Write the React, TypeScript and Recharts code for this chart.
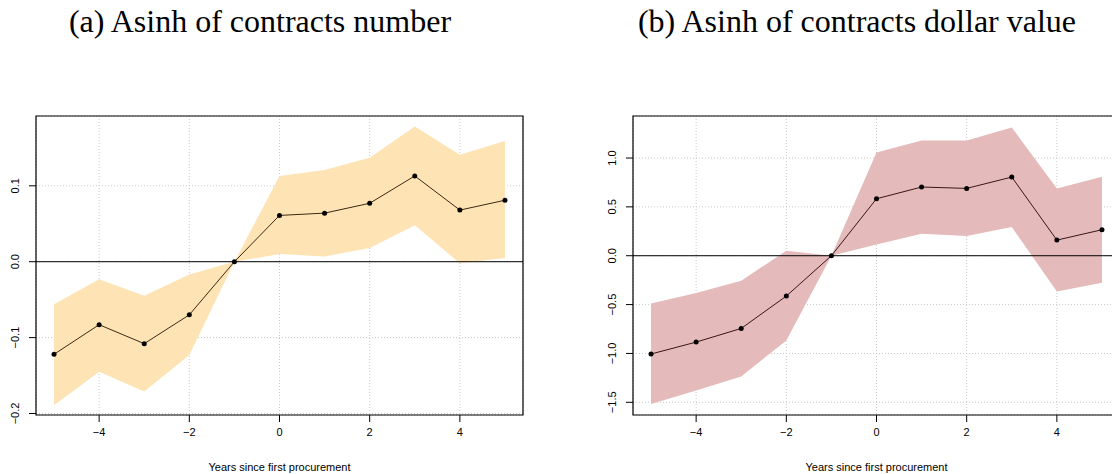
import React from "react"
import {
  Area,
  CartesianGrid,
  ComposedChart,
  Label,
  Line,
  ReferenceArea,
  ReferenceLine,
  XAxis,
  YAxis,
} from "recharts"

// event time, years relative to first procurement
const years = [-5, -4, -3, -2, -1, 0, 1, 2, 3, 4, 5]
const xTicks = [-4, -2, 0, 2, 4]

// (a) asinh of number of contracts
const countEst = [-0.122, -0.083, -0.108, -0.07, 0, 0.061, 0.064, 0.077, 0.113, 0.068, 0.081]
const countLo = [-0.189, -0.145, -0.171, -0.123, 0, 0.01, 0.007, 0.018, 0.048, -0.002, 0.005]
const countHi = [-0.056, -0.023, -0.045, -0.017, 0, 0.113, 0.121, 0.137, 0.178, 0.141, 0.159]
const countTicks = [-0.2, -0.1, 0, 0.1]

// (b) asinh of dollar value of contracts
const valueEst = [-1.006, -0.884, -0.744, -0.413, 0, 0.583, 0.703, 0.689, 0.805, 0.16, 0.266]
const valueLo = [-1.518, -1.378, -1.235, -0.867, 0, 0.116, 0.225, 0.201, 0.294, -0.365, -0.276]
const valueHi = [-0.488, -0.382, -0.256, 0.051, 0, 1.057, 1.18, 1.18, 1.313, 0.689, 0.809]
const valueTicks = [-1.5, -1, -0.5, 0, 0.5, 1]

const X_DOMAIN: [number, number] = [-5.4, 5.4]

const fmt = (v: number) => v.toFixed(1).replace("-", "\u2212")

const tickFont = { fontFamily: "'Liberation Sans', Arial, sans-serif", fontSize: 11 }

function YTick(props: any) {
  const { x, y, payload } = props
  const cx = x - 12
  return (
    <text
      x={cx}
      y={y}
      transform={`rotate(-90, ${cx}, ${y})`}
      textAnchor="middle"
      dominantBaseline="central"
      fill="#000"
      style={tickFont}
    >
      {fmt(payload.value)}
    </text>
  )
}

function XTick(props: any) {
  const { x, y, payload } = props
  return (
    <text x={x} y={y + 8} textAnchor="middle" dominantBaseline="central" fill="#000" style={tickFont}>
      {String(payload.value).replace("-", "\u2212")}
    </text>
  )
}

function EventStudy({
  est,
  lo,
  hi,
  yDomain,
  yTicks,
  fill,
  lineColor,
}: {
  est: number[]
  lo: number[]
  hi: number[]
  yDomain: [number, number]
  yTicks: number[]
  fill: string
  lineColor: string
}) {
  const rows = years.map((t, i) => ({ t, est: est[i], band: [lo[i], hi[i]] }))
  return (
    <ComposedChart width={540} height={474} data={rows} margin={{ top: 116, right: 17, bottom: 0, left: 0 }}>
      <CartesianGrid stroke="#c8c8c8" strokeDasharray="1 2" />
      <XAxis
        dataKey="t"
        type="number"
        domain={X_DOMAIN}
        ticks={xTicks}
        height={59}
        axisLine={false}
        tickLine={{ stroke: "#000" }}
        tickSize={7}
        tick={<XTick />}
        allowDataOverflow
      >
        <Label
          value="Years since first procurement"
          position="insideBottom"
          offset={3}
          style={{ ...tickFont, fill: "#000" }}
        />
      </XAxis>
      <YAxis
        type="number"
        domain={yDomain}
        ticks={yTicks}
        width={36}
        axisLine={false}
        tickLine={{ stroke: "#000" }}
        tickSize={7}
        tick={<YTick />}
        allowDataOverflow
      />
      <Area
        dataKey="band"
        type="linear"
        fill={fill}
        fillOpacity={1}
        stroke="none"
        isAnimationActive={false}
      />
      <ReferenceLine y={0} stroke="#000" strokeWidth={1} />
      <Line
        dataKey="est"
        type="linear"
        stroke={lineColor}
        strokeWidth={1}
        dot={{ r: 2.5, fill: "#000", stroke: "none" }}
        isAnimationActive={false}
      />
      <ReferenceArea
        x1={X_DOMAIN[0]}
        x2={X_DOMAIN[1]}
        y1={yDomain[0]}
        y2={yDomain[1]}
        fill="none"
        stroke="#000"
        strokeWidth={1.2}
      />
    </ComposedChart>
  )
}

const titleFont = { fontFamily: "'Liberation Serif', 'Times New Roman', serif", fontSize: 32 }

export default function App() {
  return (
    <div
      style={{
        position: "absolute",
        left: 0,
        top: 0,
        width: 1112,
        height: 474,
        overflow: "hidden",
        background: "#fff",
      }}
    >
      <svg width={1112} height={60} style={{ position: "absolute", left: 0, top: 0 }}>
        <text x={260} y={32} textAnchor="middle" fill="#000" style={titleFont}>
          (a) Asinh of contracts number
        </text>
        <text x={857} y={32} textAnchor="middle" fill="#000" style={titleFont}>
          (b) Asinh of contracts dollar value
        </text>
      </svg>
      <div style={{ position: "absolute", left: 0, top: 0 }}>
        <EventStudy
          est={countEst}
          lo={countLo}
          hi={countHi}
          yDomain={[-0.202, 0.192]}
          yTicks={countTicks}
          fill="#fee3b4"
          lineColor="#3a2a14"
        />
      </div>
      <div style={{ position: "absolute", left: 597, top: 0 }}>
        <EventStudy
          est={valueEst}
          lo={valueLo}
          hi={valueHi}
          yDomain={[-1.63, 1.43]}
          yTicks={valueTicks}
          fill="#e4baba"
          lineColor="#3a1616"
        />
      </div>
    </div>
  )
}
